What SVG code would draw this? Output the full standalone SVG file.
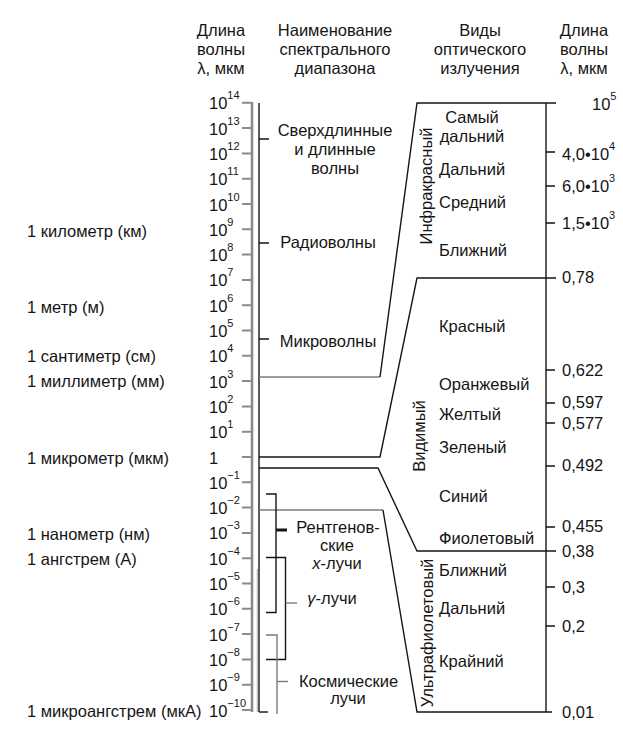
<svg xmlns="http://www.w3.org/2000/svg" width="623" height="747" viewBox="0 0 623 747">
<style>
text{font-family:"Liberation Sans",Arial,sans-serif;font-size:16.5px;fill:#151515}
.m{text-anchor:middle}
.sup{font-size:11px}
.ln{fill:none;stroke:#151515;stroke-width:1.4}
.gl{fill:none;stroke:#7a7a7a;stroke-width:1.4}
.ax{fill:none;stroke:#8a8a8a;stroke-width:2.6}
.tk{fill:none;stroke:#8a8a8a;stroke-width:2}
</style>
<rect width="623" height="747" fill="#fff"/>

<g id="headers">
<g id="h1"><text class="m" x="221" y="36">Длина</text><text class="m" x="221" y="55">волны</text><text class="m" x="221" y="74">λ, мкм</text></g>
<g id="h2"><text class="m" x="335" y="36">Наименование</text><text class="m" x="335" y="55">спектрального</text><text class="m" x="335" y="74">диапазона</text></g>
<g id="h3"><text class="m" x="480" y="36">Виды</text><text class="m" x="480" y="55">оптического</text><text class="m" x="480" y="74">излучения</text></g>
<g id="h4"><text class="m" x="584" y="36">Длина</text><text class="m" x="584" y="55">волны</text><text class="m" x="584" y="74">λ, мкм</text></g>
</g>

<g id="units">
<text x="27" y="236.5">1 километр (км)</text>
<text x="27" y="312.5">1 метр (м)</text>
<text x="27" y="361.5">1 сантиметр (см)</text>
<text x="27" y="386.5">1 миллиметр (мм)</text>
<text x="27" y="463.5">1 микрометр (мкм)</text>
<text x="27" y="540">1 нанометр (нм)</text>
<text x="27" y="564.5">1 ангстрем (А)</text>
<text x="27" y="717">1 микроангстрем (мкА)</text>
</g>

<g id="scale">
<line class="ax" x1="252" y1="102" x2="252" y2="712"/>
<path class="tk" d="M242 102.8H252M242 128.1H252M242 153.4H252M242 178.7H252M242 204H252M242 229.3H252M242 254.6H252M242 279.9H252M242 305.2H252M242 330.5H252M242 355.8H252M242 381.1H252M242 406.4H252M242 431.7H252M242 457H252M242 482.3H252M242 507.6H252M242 532.9H252M242 558.2H252M242 583.5H252M242 608.8H252M242 634.1H252M242 659.4H252M242 684.7H252M242 710H252"/>
<text x="209" y="109.3">10<tspan class="sup" dy="-10">14</tspan></text>
<text x="209" y="134.6">10<tspan class="sup" dy="-10">13</tspan></text>
<text x="209" y="159.9">10<tspan class="sup" dy="-10">12</tspan></text>
<text x="209" y="185.2">10<tspan class="sup" dy="-10">11</tspan></text>
<text x="209" y="210.5">10<tspan class="sup" dy="-10">10</tspan></text>
<text x="209" y="235.8">10<tspan class="sup" dy="-10">9</tspan></text>
<text x="209" y="261.1">10<tspan class="sup" dy="-10">8</tspan></text>
<text x="209" y="286.4">10<tspan class="sup" dy="-10">7</tspan></text>
<text x="209" y="311.7">10<tspan class="sup" dy="-10">6</tspan></text>
<text x="209" y="337">10<tspan class="sup" dy="-10">5</tspan></text>
<text x="209" y="362.3">10<tspan class="sup" dy="-10">4</tspan></text>
<text x="209" y="387.6">10<tspan class="sup" dy="-10">3</tspan></text>
<text x="209" y="412.9">10<tspan class="sup" dy="-10">2</tspan></text>
<text x="209" y="438.2">10<tspan class="sup" dy="-10">1</tspan></text>
<text x="209" y="463.5">1</text>
<text x="209" y="488.8">10<tspan class="sup" dy="-10">−1</tspan></text>
<text x="209" y="514.1">10<tspan class="sup" dy="-10">−2</tspan></text>
<text x="209" y="539.4">10<tspan class="sup" dy="-10">−3</tspan></text>
<text x="209" y="564.7">10<tspan class="sup" dy="-10">−4</tspan></text>
<text x="209" y="590">10<tspan class="sup" dy="-10">−5</tspan></text>
<text x="209" y="615.3">10<tspan class="sup" dy="-10">−6</tspan></text>
<text x="209" y="640.6">10<tspan class="sup" dy="-10">−7</tspan></text>
<text x="209" y="665.9">10<tspan class="sup" dy="-10">−8</tspan></text>
<text x="209" y="691.2">10<tspan class="sup" dy="-10">−9</tspan></text>
<text x="209" y="716.5">10<tspan class="sup" dy="-10">−10</tspan></text>
</g>

<g id="ranges">
<g id="r-long"><text class="m" x="335" y="136">Сверхдлинные</text><text class="m" x="335" y="155">и длинные</text><text class="m" x="335" y="173.5">волны</text></g>
<g id="r-radio"><text class="m" x="328" y="248">Радиоволны</text></g>
<g id="r-micro"><text class="m" x="328" y="346.5">Микроволны</text></g>
<g id="r-xray"><text class="m" x="338" y="532.5">Рентгенов-</text><text class="m" x="337" y="551">ские</text><text class="m" x="337" y="569"><tspan font-style="italic">x</tspan>-лучи</text></g>
<g id="r-gamma"><text class="m" x="332" y="604"><tspan font-style="italic">γ</tspan>-лучи</text></g>
<g id="r-cosmic"><text class="m" x="348.5" y="686.7">Космические</text><text class="m" x="348" y="704">лучи</text></g>
</g>

<g id="ir">
<text transform="translate(432,186) rotate(-90)" class="m">Инфракрасный</text>
<text class="m" x="472" y="123">Самый</text>
<text class="m" x="472" y="141.5">дальний</text>
<text x="439" y="174.5">Дальний</text>
<text x="439" y="208">Средний</text>
<text x="439" y="255.5">Ближний</text>
</g>

<g id="visible">
<text transform="translate(425,436) rotate(-90)" class="m">Видимый</text>
<text x="439" y="332">Красный</text>
<text x="439" y="390">Оранжевый</text>
<text x="439" y="419.5">Желтый</text>
<text x="439" y="452.5">Зеленый</text>
<text x="439" y="502">Синий</text>
<text x="439" y="543.5">Фиолетовый</text>
</g>

<g id="uv">
<text transform="translate(432.5,633) rotate(-90)" class="m">Ультрафиолетовый</text>
<text x="439" y="575.5">Ближний</text>
<text x="439" y="613.5">Дальний</text>
<text x="439" y="666.5">Крайний</text>
</g>

<g id="right-scale">
<text x="592" y="109.5">10<tspan class="sup" dy="-10">5</tspan></text>
<text x="562" y="159.5">4,0•10<tspan class="sup" dy="-10">4</tspan></text>
<text x="562" y="191.5">6,0•10<tspan class="sup" dy="-10">3</tspan></text>
<text x="562" y="229">1,5•10<tspan class="sup" dy="-10">3</tspan></text>
<text x="562" y="282.5">0,78</text>
<text x="562" y="376">0,622</text>
<text x="562" y="408.3">0,597</text>
<text x="562" y="429">0,577</text>
<text x="562" y="471.3">0,492</text>
<text x="562" y="531.7">0,455</text>
<text x="562" y="556.7">0,38</text>
<text x="562" y="592.5">0,3</text>
<text x="562" y="632">0,2</text>
<text x="562" y="718">0,01</text>
</g>

<g id="connectors">
<line class="ln" x1="259" y1="103" x2="259" y2="712"/>
<line x1="257.3" y1="569" x2="257.3" y2="712" stroke="#aaa" stroke-width="1"/>
<path class="ln" d="M259 712H268"/>
<path class="ln" d="M259 139H269M259 243H269M259 339H269"/>
<path class="gl" d="M259 377H380"/>
<path class="ln" d="M380 377L417 103H556"/>
<path class="ln" d="M259 457H380L417 278H556"/>
<path class="ln" d="M259 468H378L417 551H556"/>
<path class="gl" d="M259 510H383"/>
<path class="ln" d="M383 510L417 712H552"/>
<line class="ln" x1="546" y1="103" x2="546" y2="712"/>
<path class="ln" d="M546 152H555M546 186H555M546 223H555M546 370H555M546 403H555M546 423H555M546 466H555M546 527H555M546 587H555M546 626H555"/>
<path class="ln" d="M266 494H276V612.5H266"/>
<path d="M276 530H287" stroke="#151515" stroke-width="3"/>
<path class="ln" d="M266 557.5H285.5V659.5H266"/>
<path class="gl" d="M285.5 603H297"/>
<path class="gl" d="M266 635H277V714"/>
<path class="gl" d="M277 681.5H288"/>
</g>
</svg>
